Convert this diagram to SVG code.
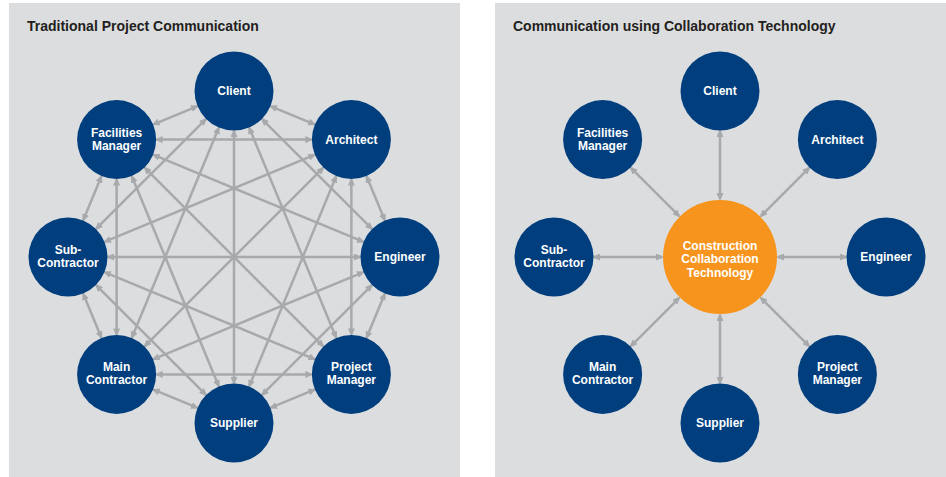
<svg xmlns="http://www.w3.org/2000/svg" width="946" height="477" viewBox="0 0 946 477">
  <style>
    .panel { fill: #dcdddf; }
    .title { font-family: "Liberation Sans", Arial, sans-serif; font-weight: bold; font-size: 14px; fill: #231f20; }
    .node circle { fill: #003e7e; }
    .hub circle { fill: #f7941d; }
    .node text, .hub text { font-family: "Liberation Sans", Arial, sans-serif; font-weight: bold; font-size: 12px; fill: #ffffff; text-anchor: middle; }
    .link { stroke: #a7a9ac; stroke-width: 2.5; fill: none; marker-start: url(#tip); marker-end: url(#tip); }
  </style>
  <defs>
    <marker id="tip" viewBox="0 0 8 7" refX="6" refY="3.5" markerWidth="8" markerHeight="7" markerUnits="userSpaceOnUse" orient="auto-start-reverse">
      <path d="M0,0 L8,3.5 L0,7 z" fill="#a7a9ac"/>
    </marker>
  </defs>

  <!-- panels -->
  <rect class="panel" x="9" y="3" width="451" height="474"/>
  <rect class="panel" x="495" y="3" width="451" height="474"/>
  <text class="title" x="27" y="31">Traditional Project Communication</text>
  <text class="title" x="513" y="31">Communication using Collaboration Technology</text>

  <!-- left: every party linked to every other -->
  <g id="connectors-traditional">
    <!-- neighbours -->
    <line class="link" x1="270.96" y1="106.31" x2="314.43" y2="124.31"/>
    <line class="link" x1="366.69" y1="176.58" x2="384.69" y2="220.05"/>
    <line class="link" x1="384.69" y1="293.96" x2="366.69" y2="337.43"/>
    <line class="link" x1="314.43" y1="389.69" x2="270.96" y2="407.69"/>
    <line class="link" x1="197.05" y1="407.69" x2="153.58" y2="389.69"/>
    <line class="link" x1="101.31" y1="337.43" x2="83.31" y2="293.96"/>
    <line class="link" x1="83.31" y1="220.05" x2="101.31" y2="176.58"/>
    <line class="link" x1="153.58" y1="124.31" x2="197.05" y2="106.31"/>
    <!-- two apart -->
    <line class="link" x1="262.28" y1="119.28" x2="371.72" y2="228.72"/>
    <line class="link" x1="351.38" y1="179.62" x2="351.38" y2="334.38"/>
    <line class="link" x1="371.72" y1="285.28" x2="262.28" y2="394.72"/>
    <line class="link" x1="311.38" y1="374.38" x2="156.62" y2="374.38"/>
    <line class="link" x1="205.72" y1="394.72" x2="96.28" y2="285.28"/>
    <line class="link" x1="116.62" y1="334.38" x2="116.62" y2="179.62"/>
    <line class="link" x1="96.28" y1="228.72" x2="205.72" y2="119.28"/>
    <line class="link" x1="156.62" y1="139.62" x2="311.38" y2="139.62"/>
    <!-- three apart -->
    <line class="link" x1="249.31" y1="127.96" x2="336.07" y2="337.43"/>
    <line class="link" x1="336.07" y1="176.58" x2="249.31" y2="386.05"/>
    <line class="link" x1="363.05" y1="272.31" x2="153.58" y2="359.07"/>
    <line class="link" x1="314.43" y1="359.07" x2="104.96" y2="272.31"/>
    <line class="link" x1="218.69" y1="386.05" x2="131.93" y2="176.58"/>
    <line class="link" x1="131.93" y1="337.43" x2="218.69" y2="127.96"/>
    <line class="link" x1="104.96" y1="241.69" x2="314.43" y2="154.93"/>
    <line class="link" x1="153.58" y1="154.93" x2="363.05" y2="241.69"/>
    <!-- opposite -->
    <line class="link" x1="234" y1="131" x2="234" y2="383"/>
    <line class="link" x1="323.10" y1="167.90" x2="144.90" y2="346.10"/>
    <line class="link" x1="360" y1="257" x2="108" y2="257"/>
    <line class="link" x1="323.10" y1="346.10" x2="144.90" y2="167.90"/>
  </g>

  <!-- right: every party linked through the hub -->
  <g id="connectors-hub">
    <line class="link" x1="720" y1="199" x2="720" y2="131"/>
    <line class="link" x1="761.01" y1="215.99" x2="809.10" y2="167.90"/>
    <line class="link" x1="778" y1="257" x2="846" y2="257"/>
    <line class="link" x1="761.01" y1="298.01" x2="809.10" y2="346.10"/>
    <line class="link" x1="720" y1="315" x2="720" y2="383"/>
    <line class="link" x1="678.99" y1="298.01" x2="630.90" y2="346.10"/>
    <line class="link" x1="662" y1="257" x2="594" y2="257"/>
    <line class="link" x1="678.99" y1="215.99" x2="630.90" y2="167.90"/>
  </g>

  <!-- left nodes -->
  <g id="t-client" class="node"><circle cx="234" cy="91" r="39.5"/><text x="234" y="95">Client</text></g>
  <g id="t-architect" class="node"><circle cx="351.38" cy="139.62" r="39.5"/><text x="351.38" y="143.6">Architect</text></g>
  <g id="t-engineer" class="node"><circle cx="400" cy="257" r="39.5"/><text x="400" y="261">Engineer</text></g>
  <g id="t-project-manager" class="node"><circle cx="351.38" cy="374.38" r="39.5"/><text x="351.38" y="371.4">Project</text><text x="351.38" y="384.4">Manager</text></g>
  <g id="t-supplier" class="node"><circle cx="234" cy="423" r="39.5"/><text x="234" y="427">Supplier</text></g>
  <g id="t-main-contractor" class="node"><circle cx="116.62" cy="374.38" r="39.5"/><text x="116.62" y="371.4">Main</text><text x="116.62" y="384.4">Contractor</text></g>
  <g id="t-sub-contractor" class="node"><circle cx="68" cy="257" r="39.5"/><text x="68" y="254">Sub-</text><text x="68" y="267">Contractor</text></g>
  <g id="t-facilities-manager" class="node"><circle cx="116.62" cy="139.62" r="39.5"/><text x="116.62" y="136.6">Facilities</text><text x="116.62" y="149.6">Manager</text></g>

  <!-- right nodes -->
  <g id="c-hub" class="hub"><circle cx="720" cy="257" r="57"/><text x="720" y="250">Construction</text><text x="720" y="263.3">Collaboration</text><text x="720" y="276.6">Technology</text></g>
  <g id="c-client" class="node"><circle cx="720" cy="91" r="39.5"/><text x="720" y="95">Client</text></g>
  <g id="c-architect" class="node"><circle cx="837.38" cy="139.62" r="39.5"/><text x="837.38" y="143.6">Architect</text></g>
  <g id="c-engineer" class="node"><circle cx="886" cy="257" r="39.5"/><text x="886" y="261">Engineer</text></g>
  <g id="c-project-manager" class="node"><circle cx="837.38" cy="374.38" r="39.5"/><text x="837.38" y="371.4">Project</text><text x="837.38" y="384.4">Manager</text></g>
  <g id="c-supplier" class="node"><circle cx="720" cy="423" r="39.5"/><text x="720" y="427">Supplier</text></g>
  <g id="c-main-contractor" class="node"><circle cx="602.62" cy="374.38" r="39.5"/><text x="602.62" y="371.4">Main</text><text x="602.62" y="384.4">Contractor</text></g>
  <g id="c-sub-contractor" class="node"><circle cx="554" cy="257" r="39.5"/><text x="554" y="254">Sub-</text><text x="554" y="267">Contractor</text></g>
  <g id="c-facilities-manager" class="node"><circle cx="602.62" cy="139.62" r="39.5"/><text x="602.62" y="136.6">Facilities</text><text x="602.62" y="149.6">Manager</text></g>
</svg>
